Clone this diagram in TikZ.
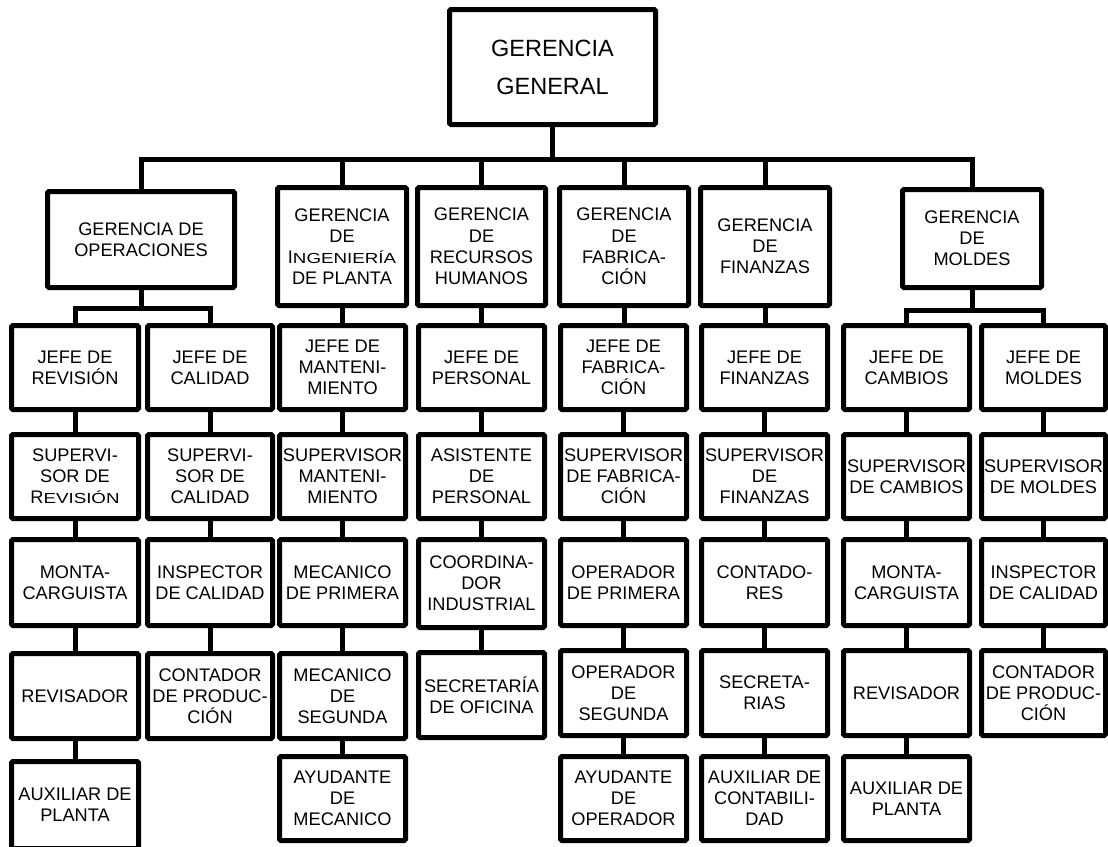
\documentclass[tikz,border=0pt]{standalone}
\usepackage{fontspec}
\usepackage{graphicx}
\setmainfont{Liberation Sans}
\pgfdeclarelayer{lines}
\pgfsetlayers{lines,main}
% box given by its outer edges: name, x1, y1, x2, y2, text
\newcommand\orgbox[6]{%
  \node[box, minimum width={#4-#2-5}, minimum height={#5-#3-5}] (#1)
    at ({(#2+#4)/2},{(#3+#5)/2}) {#6};}
% small capitals: full width, reduced height
\newcommand\lowcap[1]{\scalebox{1.03}[0.8]{#1}}
\begin{document}
\begin{tikzpicture}[x=1pt, y=-1pt,
  box/.style={draw, line width=5pt, rounded corners=1.5pt, fill=white,
    align=center, inner sep=0pt, text=black,
    font=\fontsize{18.2}{21.2}\selectfont},
  topbox/.style={box, font=\fontsize{23.5}{38}\selectfont},
  link/.style={line width=5pt, line join=miter}]
\useasboundingbox (0,0) rectangle (1108,846);
\begin{pgfonlayer}{lines}
\fill[white] (0,0) rectangle (1108,846);
\end{pgfonlayer}
\clip (0,0) rectangle (1108,846);

% top
\node[topbox, minimum width=206, minimum height=115] (gg) at (552.5,67) {GERENCIA\\GENERAL};

% first level
\orgbox{op}{45}{189}{237}{290}{GERENCIA DE\\OPERACIONES}
\orgbox{ing}{275}{185}{409}{308}{GERENCIA\\DE\\I\lowcap{NGENIERÍA}\\DE PLANTA}
\orgbox{rh}{415}{185}{548}{308}{GERENCIA\\DE\\RECURSOS\\HUMANOS}
\orgbox{fab}{557}{185}{691}{308}{GERENCIA\\DE\\FABRICA-\\CIÓN}
\orgbox{fin}{698}{185}{832}{308}{GERENCIA\\DE\\FINANZAS}
\orgbox{mol}{900}{187}{1044}{290}{GERENCIA\\DE\\MOLDES}

% column A
\orgbox{a2}{9}{323}{141}{412}{JEFE DE\\REVISIÓN}
\orgbox{a3}{9}{432}{141}{521}{SUPERVI-\\SOR DE\\R\lowcap{EVISIÓN}}
\orgbox{a4}{9}{537}{141}{628}{MONTA-\\CARGUISTA}
\orgbox{a5}{9}{651}{141}{741}{REVISADOR}
\orgbox{a6}{9}{759}{141}{851}{AUXILIAR DE\\PLANTA}
% column B
\orgbox{b2}{145}{323}{275}{412}{JEFE DE\\CALIDAD}
\orgbox{b3}{145}{432}{275}{521}{SUPERVI-\\SOR DE\\CALIDAD}
\orgbox{b4}{145}{537}{275}{628}{INSPECTOR\\DE CALIDAD}
\orgbox{b5}{145}{651}{275}{741}{CONTADOR\\DE PRODUC-\\CIÓN}
% column C
\orgbox{c2}{277}{323}{408}{412}{JEFE DE\\MANTENI-\\MIENTO}
\orgbox{c3}{277}{432}{408}{521}{SUPERVISOR\\MANTENI-\\MIENTO}
\orgbox{c4}{277}{537}{408}{628}{MECANICO\\DE PRIMERA}
\orgbox{c5}{277}{651}{408}{741}{MECANICO\\DE\\SEGUNDA}
\orgbox{c6}{277}{754}{408}{843}{AYUDANTE\\DE\\MECANICO}
% column D
\orgbox{d2}{416}{323}{547}{412}{JEFE DE\\PERSONAL}
\orgbox{d3}{416}{432}{547}{521}{ASISTENTE\\DE\\PERSONAL}
\orgbox{d4}{416}{537}{547}{630}{COORDINA-\\DOR\\INDUSTRIAL}
\orgbox{d5}{416}{650}{547}{740}{SECRETARÍA\\DE OFICINA}
% column E
\orgbox{e2}{558}{323}{689}{412}{JEFE DE\\FABRICA-\\CIÓN}
\orgbox{e3}{558}{432}{689}{521}{SUPERVISOR\\DE FABRICA-\\CIÓN}
\orgbox{e4}{558}{537}{689}{628}{OPERADOR\\DE PRIMERA}
\orgbox{e5}{558}{648}{689}{738}{OPERADOR\\DE\\SEGUNDA}
\orgbox{e6}{558}{754}{689}{843}{AYUDANTE\\DE\\OPERADOR}
% column F
\orgbox{f2}{699}{323}{830}{412}{JEFE DE\\FINANZAS}
\orgbox{f3}{699}{432}{830}{521}{SUPERVISOR\\DE\\FINANZAS}
\orgbox{f4}{699}{537}{830}{628}{CONTADO-\\RES}
\orgbox{f5}{699}{648}{830}{738}{SECRETA-\\RIAS}
\orgbox{f6}{699}{754}{830}{843}{AUXILIAR DE\\CONTABILI-\\DAD}
% column G
\orgbox{g2}{841}{323}{972}{412}{JEFE DE\\CAMBIOS}
\orgbox{g3}{841}{432}{972}{521}{SUPERVISOR\\DE CAMBIOS}
\orgbox{g4}{841}{537}{972}{628}{MONTA-\\CARGUISTA}
\orgbox{g5}{841}{648}{972}{738}{REVISADOR}
\orgbox{g6}{841}{754}{972}{843}{AUXILIAR DE\\PLANTA}
% column H
\orgbox{h2}{979}{323}{1108}{412}{JEFE DE\\MOLDES}
\orgbox{h3}{979}{432}{1108}{521}{SUPERVISOR\\DE MOLDES}
\orgbox{h4}{979}{537}{1108}{628}{INSPECTOR\\DE CALIDAD}
\orgbox{h5}{979}{648}{1108}{738}{CONTADOR\\DE PRODUC-\\CIÓN}

% connectors, kept beneath the boxes
\begin{pgfonlayer}{lines}
\coordinate (bus) at (0,159);
\coordinate (opbus) at (0,308);
\coordinate (molbus) at (0,310);
\draw[link] (gg.south) -- (gg.south |- bus);
\foreach \n in {op,ing,rh,fab,fin,mol}
  \draw[link] (\n.north) |- (gg.south |- bus);

\draw[link] (op.south) -- (op.south |- opbus);
\draw[link] (a2.north) |- (op.south |- opbus);
\draw[link] (b2.north) |- (op.south |- opbus);
\draw[link] (mol.south) -- (mol.south |- molbus);
\draw[link] (g2.north) |- (mol.south |- molbus);
\draw[link] (h2.north) |- (mol.south |- molbus);

\foreach \u/\v in {ing/c2, rh/d2, fab/e2, fin/f2,
    a2/a3, a3/a4, a4/a5, a5/a6,
    b2/b3, b3/b4, b4/b5,
    c2/c3, c3/c4, c4/c5, c5/c6,
    d2/d3, d3/d4, d4/d5,
    e2/e3, e3/e4, e4/e5, e5/e6,
    f2/f3, f3/f4, f4/f5, f5/f6,
    g2/g3, g3/g4, g4/g5, g5/g6,
    h2/h3, h3/h4, h4/h5}
  \draw[link] (\u.south) -- (\u.south |- \v.north);
\end{pgfonlayer}
\end{tikzpicture}
\end{document}
